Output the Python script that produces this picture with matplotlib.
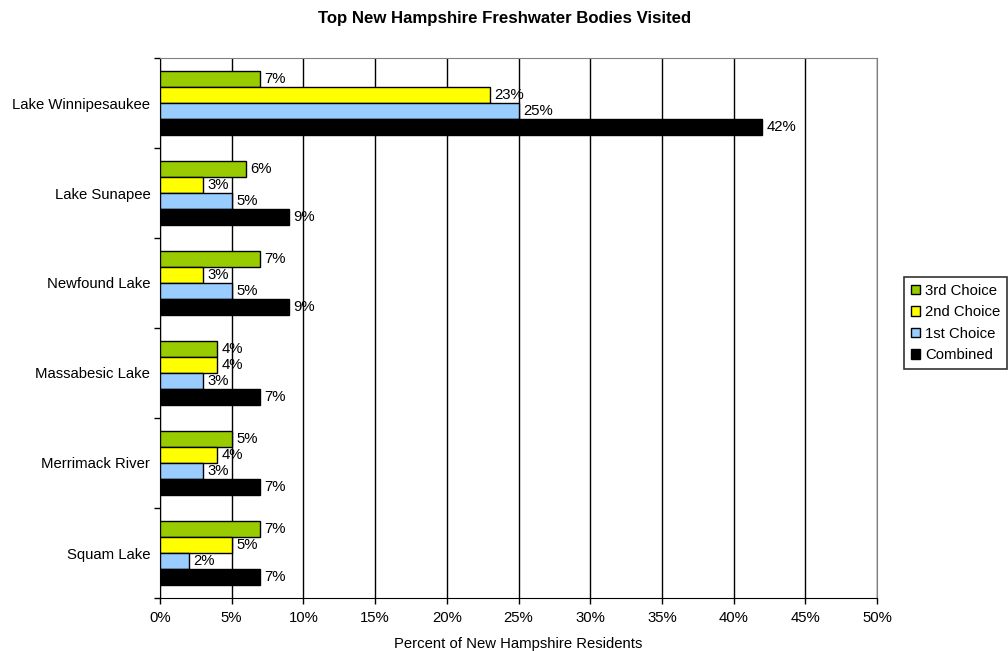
import matplotlib
matplotlib.use("Agg")
import matplotlib.pyplot as plt
import numpy as np
from matplotlib.ticker import MultipleLocator, FuncFormatter

categories = ["Lake Winnipesaukee", "Lake Sunapee", "Newfound Lake",
              "Massabesic Lake", "Merrimack River", "Squam Lake"]
series_names = ["3rd Choice", "2nd Choice", "1st Choice", "Combined"]
third = [7, 6, 7, 4, 5, 7]
second = [23, 3, 3, 4, 4, 5]
first = [25, 5, 5, 3, 3, 2]
combined = [42, 9, 9, 7, 7, 7]
colors = ["#99cc00", "#ffff00", "#99ccff", "#000000"]

FS = 10.7
plt.rcParams['font.family'] = ['Liberation Sans', 'DejaVu Sans']
fig = plt.figure(figsize=(10.08, 6.51), dpi=100)
ax = fig.add_axes([160/1008, 1-598/651, (877-160)/1008, (598-58)/651])

y = np.arange(len(categories))
h = 0.178
offsets = [-1.5, -0.5, 0.5, 1.5]
for vals, off, c, name in zip([third, second, first, combined], offsets, colors, series_names):
    ax.barh(y + off*h, vals, height=h, color=c, edgecolor="black", linewidth=1, label=name, zorder=3)
    for yi, v in zip(y, vals):
        ax.text(v + 0.3, yi + off*h, f"{v}%", va="center", ha="left", fontsize=FS, zorder=4)

ax.set_xlim(0, 50)
ax.set_ylim(len(categories)-0.5, -0.5)
ax.xaxis.set_major_locator(MultipleLocator(5))
ax.xaxis.set_major_formatter(FuncFormatter(lambda v, p: f"{int(v)}%"))
ax.set_yticks(y)
ax.set_yticklabels(categories, fontsize=FS)
ax.set_yticks(np.arange(-0.5, len(categories), 1), minor=True)
ax.tick_params(axis='y', which='major', length=0, pad=7)
ax.tick_params(axis='y', which='minor', length=4, width=1, direction='out')
ax.tick_params(axis='x', which='major', length=4, width=1, labelsize=FS, pad=5)
ax.grid(axis='x', color='black', linewidth=1, zorder=0)
for s in ['top', 'right']:
    ax.spines[s].set_color('#808080')
for s in ['left', 'bottom']:
    ax.spines[s].set_color('black')
ax.set_xlabel("Percent of New Hampshire Residents", fontsize=FS, labelpad=9)
fig.text(505/1008, 1-18/651, "Top New Hampshire Freshwater Bodies Visited",
         ha="center", va="center", fontsize=12.1, fontweight="bold")

leg = ax.legend(loc="center left", bbox_to_anchor=(904/1008, 1-323/651), bbox_transform=fig.transFigure,
                frameon=True, fancybox=False, edgecolor="black", fontsize=FS,
                handlelength=0.6, handleheight=0.6, handletextpad=0.35, borderpad=0.45,
                labelspacing=0.5, borderaxespad=0)
leg.get_frame().set_linewidth(1.2)

fig.savefig("out.png", dpi=100)
